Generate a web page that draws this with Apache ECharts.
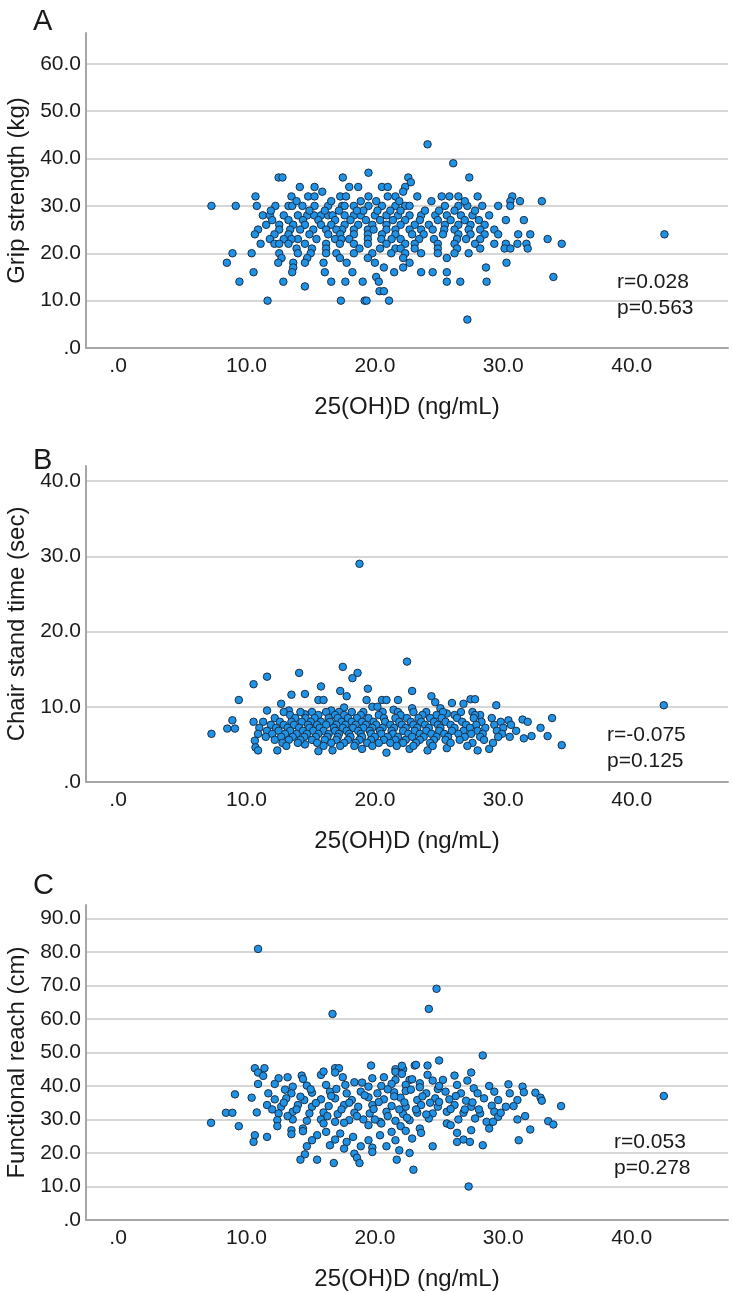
<!DOCTYPE html>
<html><head><meta charset="utf-8">
<script src="https://cdn.jsdelivr.net/npm/echarts@6/dist/echarts.min.js"></script>
<style>html,body{margin:0;padding:0;background:#fff}#c{width:733px;height:1293px}</style>
</head><body><div id="c"></div>
<script>
// ---- tick values ----
const xTicks = [0, 10, 20, 30, 40];
const gripTicks = [0, 10, 20, 30, 40, 50, 60];
const chairTicks = [0, 10, 20, 30, 40];
const reachTicks = [0, 10, 20, 30, 40, 50, 60, 70, 80, 90];

// ---- texts ----
const panelLetters = ['A', 'B', 'C'];
const yTitles = ['Grip strength (kg)', 'Chair stand time (sec)', 'Functional reach (cm)'];
const xTitle = '25(OH)D (ng/mL)';
const rValues = ['0.028', '-0.075', '0.053'];
const pValues = ['0.563', '0.125', '0.278'];

// ---- data: [25(OH)D, outcome] ----
const gripPoints = [
[24.1,43],[26.1,39],[19.5,37],[12.5,36],[12.8,36],[17.5,36],[22.6,36],[27.35,36],[22.8,35],[14.15,34],[15.3,34],[18.7,34],[18.0,34],[20.55,34],[21.0,34],[22.36,34],[15.9,33],[22.2,33],
[10.7,32],[13.5,32],[14.8,32],[15.3,32],[17.3,32],[17.75,32],[19.5,32],[21.0,32],[21.6,32],[23.3,32],[25.2,32],[25.8,32],[26.5,32],[28.0,32],[30.7,32],[33.0,31],[31.3,31],[30.55,31],
[7.27,30],[9.16,30],[10.8,30],[12.25,30],[13.27,30],[13.56,30],[14.36,30],[15.3,30],[16.36,30],[17.45,30],[17.64,30],[18.36,30],[19.5,30],[20.55,30],[21.6,30],[22.36,30],[22.7,30],[25.45,30],[26.5,30],[27.2,30],[28.36,30],[29.6,30],[30.55,30],
[11.27,28],[11.82,28],[12.9,28],[14.0,28],[14.73,28],[15.27,28],[15.8,28],[16.36,28],[16.7,28],[17.64,28],[18.36,28],[18.9,28],[20.0,28],[20.9,28],[21.8,28],[22.7,28],[23.6,28],[24.7,28],[25.6,28],[26.7,28],[27.6,28],[28.9,28],
[30.2,27],[31.6,27],[13.27,27],[16.9,27],[22.36,27],[24.9,27],[17.2,29],[19.1,29],[21.2,29],[23.9,29],
[12.0,27],[14.4,27],[15.6,27],[18.1,27],[19.3,27],[20.4,27],[21.4,27],[23.5,27],[25.9,27],[27.0,27],[28.1,27],
[11.9,29],[14.9,29],[16.1,29],[18.6,29],[20.2,29],[22.0,29],[25.0,29],[26.2,29],[27.8,29],
[13.9,31],[16.6,31],[18.9,31],[20.1,31],[21.9,31],[24.4,31],[27.0,31],
[11.53,26],[12.55,26],[13.64,26],[14.55,26],[15.8,26],[16.6,26],[17.64,26],[18.7,26],[19.8,26],[20.9,26],[22.0,26],[23.1,26],[24.2,26],[25.45,26],[26.5,26],[27.45,26],[28.55,26],
[10.9,25],[12.55,25],[14.18,25],[16.2,25],[17.45,25],[18.36,25],[19.45,25],[20.9,25],[22.7,25],[24.5,25],[26.2,25],[28.2,25],[29.3,25],
[13.4,25],[15.2,25],[17.0,25],[19.9,25],[21.6,25],[23.6,25],[25.4,25],[27.3,25],
[10.65,24],[12.18,24],[13.27,24],[14.9,24],[16.36,24],[17.3,24],[18.36,24],[19.45,24],[20.55,24],[21.6,24],[22.9,24],[23.8,24],[25.3,24],[26.5,24],[27.45,24],[28.55,24],[29.6,24],[31.16,24],[32.1,24],[42.55,24],
[11.82,23],[12.9,23],[14.0,23],[15.45,23],[16.9,23],[18.0,23],[19.45,23],[22.0,23],[23.45,23],[26.4,23],[28.2,23],[33.45,23],
[13.5,23],[17.4,23],[20.5,23],[21.3,23],[24.6,23],[27.1,23],
[11.1,22],[12.18,22],[12.55,22],[13.27,22],[14.55,22],[16.2,22],[17.27,22],[18.36,22],[19.45,22],[20.9,22],[22.36,22],[23.1,22],[24.9,22],[26.2,22],[27.8,22],[29.3,22],[30.2,22],[31.1,22],[31.8,22],[34.55,22],
[30.1,21],[30.55,21],[31.9,21],[16.2,21],[21.6,21],[22.0,21],[23.1,21],[24.9,21],[26.4,21],[28.2,21],
[13.9,21],[15.1,21],[18.8,21],[20.4,21],
[8.91,20],[10.4,20],[12.55,20],[14.0,20],[15.0,20],[16.2,20],[17.0,20],[18.36,20],[19.8,20],[21.27,20],[22.36,20],[23.6,20],[24.9,20],[26.2,20],[27.3,20],
[12.73,19],[14.73,19],[17.27,19],[19.45,19],[22.2,19],[25.6,19],
[8.47,18],[12.47,18],[13.64,18],[14.55,18],[16.0,18],[17.8,18],[20.0,18],[22.7,18],[30.25,18],
[13.64,17],[20.7,17],[22.2,17],[28.65,17],
[10.55,16],[13.56,16],[16.1,16],[18.25,16],[21.5,16],[23.6,16],[24.5,16],[25.6,16],
[20.1,15],[33.9,15],
[9.45,14],[12.87,14],[16.6,14],[17.7,14],[19.05,14],[20.3,14],[25.6,14],[26.65,14],[28.7,14],
[14.55,13],[20.36,12],[20.7,12],
[11.64,10],[17.35,10],[19.2,10],[19.35,10],[21.1,10],
[27.2,6]
];

const chairPoints = [
[18.8,29.0],[22.5,16.0],[17.5,15.3],[14.1,14.5],[18.65,14.5],[11.6,14.0],[18.25,13.8],[10.55,13.0],[15.8,12.7],[22.9,12.1],[17.3,12.1],[19.45,12.4],[17.8,11.4],[14.55,11.7],[24.4,11.4],[13.5,11.6],
[9.4,10.9],[15.6,10.9],[16.0,10.9],[19.35,10.9],[20.55,10.9],[20.9,10.9],[21.8,10.9],[27.45,11.0],[27.8,11.0],[26.0,10.5],[26.9,10.4],[24.7,10.6],[12.7,10.4],[29.45,10.2],[42.5,10.2],
[19.8,10.0],[20.2,10.0],[17.6,9.9],[22.9,9.8],[25.1,9.8],[11.6,9.5],[13.3,9.5],[16.6,9.5],[21.45,9.6],[28.2,8.9],[14.55,9.0],[25.6,9.1],
[8.9,8.2],[10.55,8.0],[33.8,8.5],[30.4,8.2],[31.5,8.3],[31.9,8.0],[32.9,7.2],[33.45,6.1],[34.55,4.9],[7.27,6.4],[8.5,7.1],[9.1,7.1],
[10.65,5.5],[10.7,4.6],[10.9,4.2],[12.4,4.2],[14.55,5.0],[15.6,4.1],[16.7,4.2],[19.0,4.4],[20.9,3.9],[22.7,4.4],[24.1,4.2],[25.6,4.5],[28.0,4.2],[28.9,4.4],[31.6,5.8],[32.2,6.1],
[12.9,9.3],[14.2,9.3],[15.1,9.3],[16.2,9.3],[17.2,9.3],[18.2,9.3],[19.1,9.3],[20.6,9.3],[21.8,9.3],[23.0,9.3],[24.0,9.3],[25.3,9.3],[26.7,9.3],[27.6,9.3],
[13.4,8.9],[15.6,8.9],[16.9,8.9],[17.6,8.9],[18.9,8.9],[20.3,8.9],[22.0,8.9],[23.7,8.9],[24.8,8.9],[26.2,8.9],[27.8,8.9],
[12.2,8.5],[13.8,8.5],[14.6,8.5],[15.3,8.5],[16.4,8.5],[17.1,8.5],[17.9,8.5],[18.6,8.5],[19.5,8.5],[20.7,8.5],[21.6,8.5],[22.5,8.5],[23.4,8.5],[24.3,8.5],[25.2,8.5],[26.4,8.5],[27.7,8.5],[29.1,8.5],
[11.3,8.0],[12.6,8.0],[13.5,8.0],[14.3,8.0],[15.0,8.0],[15.8,8.0],[16.5,8.0],[17.4,8.0],[18.2,8.0],[19.0,8.0],[19.9,8.0],[20.8,8.0],[21.9,8.0],[22.8,8.0],[23.6,8.0],[24.6,8.0],[25.5,8.0],[26.8,8.0],[28.3,8.0],[29.8,8.0],
[11.9,7.6],[12.9,7.6],[13.7,7.6],[14.8,7.6],[15.5,7.6],[16.2,7.6],[17.0,7.6],[17.7,7.6],[18.5,7.6],[19.3,7.6],[20.1,7.6],[21.2,7.6],[22.1,7.6],[23.0,7.6],[23.9,7.6],[24.9,7.6],[25.9,7.6],[27.1,7.6],[27.9,7.6],[29.3,7.6],[30.6,7.6],
[11.0,7.2],[12.3,7.2],[13.2,7.2],[14.1,7.2],[14.9,7.2],[15.7,7.2],[16.8,7.2],[17.5,7.2],[18.3,7.2],[19.1,7.2],[19.8,7.2],[20.6,7.2],[21.5,7.2],[22.4,7.2],[23.3,7.2],[24.2,7.2],[25.1,7.2],[26.2,7.2],[27.4,7.2],[28.6,7.2],[30.0,7.2],
[11.6,6.8],[12.5,6.8],[13.4,6.8],[14.4,6.8],[15.2,6.8],[16.0,6.8],[16.9,6.8],[17.8,6.8],[18.7,6.8],[19.6,6.8],[20.4,6.8],[21.3,6.8],[22.2,6.8],[23.1,6.8],[24.0,6.8],[25.0,6.8],[26.0,6.8],[26.9,6.8],[28.0,6.8],[29.5,6.8],[31.0,6.8],
[10.9,6.4],[12.0,6.4],[13.0,6.4],[13.9,6.4],[14.7,6.4],[15.6,6.4],[16.4,6.4],[17.2,6.4],[18.0,6.4],[18.9,6.4],[19.7,6.4],[20.5,6.4],[21.4,6.4],[22.6,6.4],[23.5,6.4],[24.4,6.4],[25.4,6.4],[26.5,6.4],[27.5,6.4],[28.4,6.4],[29.9,6.4],
[11.5,6.0],[12.7,6.0],[13.6,6.0],[14.5,6.0],[15.4,6.0],[16.3,6.0],[17.1,6.0],[18.1,6.0],[19.0,6.0],[20.0,6.0],[21.0,6.0],[21.8,6.0],[22.9,6.0],[23.8,6.0],[24.8,6.0],[25.7,6.0],[27.0,6.0],[28.2,6.0],[29.6,6.0],[30.5,6.0],
[12.2,5.6],[13.3,5.6],[14.2,5.6],[15.1,5.6],[16.1,5.6],[17.0,5.6],[17.9,5.6],[18.8,5.6],[19.7,5.6],[20.7,5.6],[21.6,5.6],[22.4,5.6],[23.5,5.6],[24.6,5.6],[25.5,5.6],[26.6,5.6],[28.5,5.6],
[12.8,5.2],[14.0,5.2],[15.5,5.2],[16.6,5.2],[17.6,5.2],[18.5,5.2],[19.4,5.2],[20.3,5.2],[21.2,5.2],[22.2,5.2],[23.2,5.2],[24.3,5.2],[25.9,5.2],[27.6,5.2],[29.2,5.2],
[13.1,4.8],[16.0,4.8],[17.3,4.8],[18.4,4.8],[19.8,4.8],[21.7,4.8],[23.0,4.8],[24.5,4.8],[27.2,4.8]
];

const reachPoints = [
[10.9,80.9],[16.7,61.5],[24.2,63.0],[24.8,69.0],[28.4,49.1],[25.0,47.6],[19.7,46.1],[23.1,46.1],[24.1,46.1],[10.65,45.3],[11.4,45.3],[16.9,45.3],[17.2,45.3],[21.6,45.0],[22.2,45.0],
[26.2,43.1],[27.5,44.0],[10.9,44.0],[11.3,43.0],[16.9,44.0],[21.6,44.2],[22.1,43.6],[24.1,43.3],[23.2,46.3],[22.1,46.0],
[12.5,42.3],[13.2,42.6],[14.3,43.1],[14.4,42.1],[15.8,43.3],[16.0,44.3],[17.5,42.6],[18.4,41.1],[19.8,42.3],[20.7,42.6],[21.6,41.8],[22.7,41.8],[23.5,40.8],[24.5,41.6],[25.3,41.8],[27.2,41.6],
[10.9,40.6],[12.2,40.6],[13.6,39.8],[14.7,40.1],[16.2,40.3],[17.7,40.3],[19.5,39.8],[20.5,40.0],[21.3,40.6],[22.4,40.3],[23.5,39.6],[24.9,39.1],[26.4,40.3],[27.7,39.3],[28.9,40.0],[30.4,40.5],[31.5,39.8],
[9.1,37.5],[11.7,37.8],[13.5,37.8],[15.1,38.0],[16.5,38.3],[17.8,37.8],[18.9,38.3],[20.2,37.8],[21.5,38.1],[22.4,38.5],[24.0,37.8],[25.5,38.3],[26.7,37.8],[28.0,37.8],[29.3,38.3],[30.5,37.8],[31.6,38.1],[32.5,38.0],[32.9,36.5],
[10.4,36.5],[12.2,36.0],[13.1,36.3],[14.5,35.8],[15.8,36.0],[16.9,36.3],[18.2,35.8],[19.5,36.6],[20.7,36.0],[22.0,36.5],[23.3,35.8],[24.7,36.3],[25.8,36.0],[27.1,35.6],[28.5,36.3],[29.6,35.8],[31.1,35.8],[33.0,35.6],
[11.6,34.3],[12.7,33.8],[14.0,34.3],[15.1,33.8],[16.4,34.0],[17.6,34.3],[18.7,33.8],[19.8,34.3],[21.3,34.0],[22.4,33.8],[23.6,34.3],[24.9,33.8],[26.2,34.3],[27.5,33.8],[29.1,34.1],[30.2,33.8],[34.5,34.0],[42.5,37.0],
[8.4,32.0],[8.9,32.0],[10.8,32.1],[12.5,31.8],[13.6,32.3],[14.9,31.8],[16.0,32.1],[17.1,31.6],[18.4,32.0],[19.6,31.8],[20.9,32.3],[22.2,31.6],[23.3,32.0],[24.5,31.8],[25.6,32.3],[26.9,32.0],[28.2,31.8],[29.3,32.3],
[7.24,29.0],[9.4,28.0],[12.4,29.8],[13.6,30.0],[14.7,29.6],[15.8,30.0],[16.9,29.3],[18.0,29.8],[19.1,30.0],[20.4,29.3],[21.6,29.6],[22.7,29.8],[24.2,30.3],[25.6,28.8],[26.5,30.0],[27.8,30.3],[28.7,29.3],[29.6,30.8],[31.1,30.0],[31.7,31.0],
[12.4,28.0],[13.5,26.8],[14.4,27.3],[16.0,28.8],[17.6,29.0],[19.5,28.3],[20.5,28.8],[22.0,28.0],[23.5,27.3],[25.9,28.3],[27.5,26.8],[28.9,27.3],[29.2,29.3],[32.1,27.0],
[13.5,25.6],[14.4,26.5],[15.5,25.3],[16.2,26.3],[17.3,25.8],[18.3,24.8],[20.4,25.3],[21.3,26.3],[22.4,26.6],[23.6,26.0],[26.4,26.0],
[10.65,25.3],[11.6,24.8],[10.55,23.3],[15.1,23.8],[16.9,24.0],[17.8,23.3],[19.5,23.8],[21.6,23.8],[22.9,24.3],[26.4,23.3],[26.9,24.0],[27.4,23.3],[31.2,23.8],[33.5,29.5],[33.9,28.5],
[14.7,22.0],[16.5,22.3],[17.6,21.3],[18.9,22.0],[19.8,21.6],[20.9,22.0],[21.9,20.8],[24.5,22.0],[28.4,22.3],
[14.55,19.6],[14.2,18.0],[15.5,18.0],[18.4,19.8],[18.6,18.6],[19.8,20.3],[21.7,18.0],[22.7,20.0],[16.8,17.0],[18.8,17.0],[23.0,15.0],[27.3,10.0],
[12.9,35.0],[13.9,33.0],[14.2,36.8],[15.4,34.9],[16.3,31.0],[16.6,37.0],[17.4,33.0],[18.0,35.0],[18.6,31.0],[19.2,37.2],[19.9,33.1],[20.3,35.2],[21.0,31.0],[21.5,36.9],[21.9,33.0],[22.3,35.1],[22.8,38.9],[23.2,33.0],[23.7,36.9],[24.3,35.0],[25.0,35.2],[25.9,33.1],[26.3,37.0],[27.0,33.0],[27.6,35.1],[28.1,33.0],[29.8,32.0],[30.8,34.0],[13.0,38.9],[15.0,39.0],[17.0,39.1],[19.0,41.0],[21.0,39.0],[22.9,42.0],[25.0,40.0],[12.0,33.0],[13.2,31.0],[20.0,30.0],[22.5,30.5],[24.0,31.5]
];

const panelData = [gripPoints, chairPoints, reachPoints];
const panelTicks = [gripTicks, chairTicks, reachTicks];

// ---- layout / style ----
const yMaxes = [66.5, 42, 94];
const gridTops = [33, 466, 905];
const gridHeights = [315, 316, 315];
const letterTops = [2, 441, 866];
const statPos = [[612, 264], [602, 717], [609, 1124]];
const FONT = '"Liberation Sans", Arial, sans-serif';
const TXT = '#1a1a1a';

function fmt(v) { return v === 0 ? '.0' : v.toFixed(1); }

const grids = [], xAxes = [], yAxes = [], series = [], titles = [];
for (let i = 0; i < 3; i++) {
  grids.push({ left: 86, right: 5, top: gridTops[i], height: gridHeights[i], containLabel: false, outerBoundsMode: 'none' });
  xAxes.push({
    type: 'value', gridIndex: i, min: -2.5, max: 47.5, interval: 2.5,
    name: xTitle, nameLocation: 'middle', nameGap: 47,
    nameTextStyle: { fontFamily: FONT, fontSize: 24, color: TXT },
    axisLine: { show: true, onZero: false, lineStyle: { color: '#a6a6a6', width: 2 } },
    axisTick: { show: false }, splitLine: { show: false },
    axisLabel: { margin: 8, fontFamily: FONT, fontSize: 21, color: TXT,
      formatter: v => xTicks.includes(Math.round(v * 1000) / 1000) ? fmt(v) : '' }
  });
  const ticks = panelTicks[i];
  yAxes.push({
    type: 'value', gridIndex: i, min: 0, max: yMaxes[i], interval: 10,
    name: yTitles[i], nameLocation: 'middle', nameGap: 56, nameRotate: 90,
    nameTextStyle: { fontFamily: FONT, fontSize: 24, color: TXT },
    axisLine: { show: true, onZero: false, lineStyle: { color: '#a6a6a6', width: 2 } },
    axisTick: { show: false },
    splitLine: { show: true, showMinLine: false, showMaxLine: false, lineStyle: { color: '#d6d6d6', width: 2 } },
    axisLabel: { margin: 5, fontFamily: FONT, fontSize: 21, color: TXT, showMaxLabel: false,
      formatter: v => ticks.includes(Math.round(v * 1000) / 1000) ? fmt(v) : '' }
  });
  series.push({
    type: 'scatter', xAxisIndex: i, yAxisIndex: i, data: panelData[i],
    symbol: 'circle', symbolSize: 7.5,
    itemStyle: { color: '#1e92e6', borderColor: '#1b2f45', borderWidth: 1, opacity: 1 },
    emphasis: { disabled: true }, animation: false
  });
  titles.push({ text: panelLetters[i], left: 28, top: letterTops[i],
    textStyle: { fontFamily: FONT, fontSize: 29, fontWeight: 'normal', color: TXT } });
  titles.push({ text: 'r=' + rValues[i] + '\np=' + pValues[i], left: statPos[i][0], top: statPos[i][1],
    textStyle: { fontFamily: FONT, fontSize: 21, fontWeight: 'normal', color: TXT, lineHeight: 26 } });
}

const chart = echarts.init(document.getElementById('c'), null, { renderer: 'canvas' });
chart.setOption({
  backgroundColor: '#ffffff', animation: false,
  title: titles, grid: grids, xAxis: xAxes, yAxis: yAxes, series: series
});
</script></body></html>
